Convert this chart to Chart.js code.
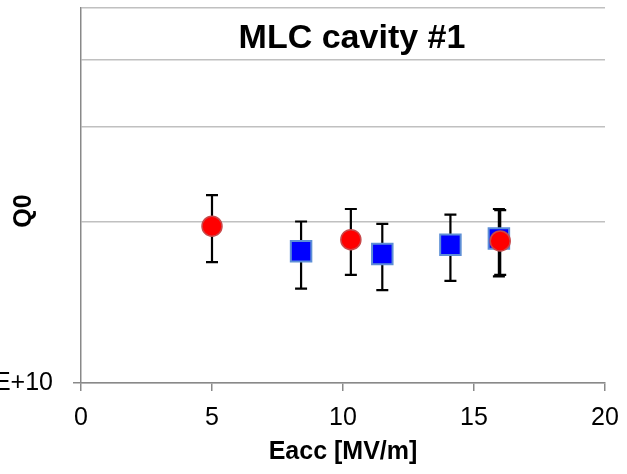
<!DOCTYPE html>
<html>
<head>
<meta charset="utf-8">
<script src="https://cdn.jsdelivr.net/npm/chart.js@4/dist/chart.umd.min.js"></script>
<style>
  body { margin: 0; background: #fff; }
  #wrap { width: 627px; height: 474px; }
</style>
</head>
<body>
<div id="wrap"><canvas id="q0Chart" width="627" height="474"></canvas></div>
<script>
// Q0 vs Eacc, MLC cavity #1
var blueE  = [8.4, 11.5, 14.1, 15.95];
var blueQ  = [1.76e10, 1.74e10, 1.81e10, 1.86e10];
var blueHi = [2.00e10, 1.98e10, 2.06e10, 2.11e10];
var blueLo = [1.50e10, 1.49e10, 1.55e10, 1.58e10];

var redE  = [5.0, 10.3, 16.0];
var redQ  = [1.96e10, 1.85e10, 1.84e10];
var redHi = [2.24e10, 2.11e10, 2.10e10];
var redLo = [1.68e10, 1.59e10, 1.59e10];

var xTicks = [0, 5, 10, 15, 20];
var yTicks = [1e10, 2e10, 3e10, 4e10, 5e10];

function toPoints(xs, ys){
  var pts = [];
  for (var i = 0; i < xs.length; i++) pts.push({x: xs[i], y: ys[i]});
  return pts;
}

var errorBars = {
  id: 'errorBars',
  beforeDatasetsDraw: function(chart){
    var ctx = chart.ctx, x = chart.scales.x, y = chart.scales.y;
    var sets = [[blueE, blueLo, blueHi], [redE, redLo, redHi]];
    ctx.save();
    ctx.strokeStyle = '#000';
    ctx.lineWidth = 2.2;
    sets.forEach(function(s){
      for (var i = 0; i < s[0].length; i++) {
        var px = x.getPixelForValue(s[0][i]);
        var lo = y.getPixelForValue(s[1][i]);
        var hi = y.getPixelForValue(s[2][i]);
        ctx.beginPath();
        ctx.moveTo(px, lo); ctx.lineTo(px, hi);
        ctx.moveTo(px - 6, lo); ctx.lineTo(px + 6, lo);
        ctx.moveTo(px - 6, hi); ctx.lineTo(px + 6, hi);
        ctx.stroke();
      }
    });
    ctx.restore();
  }
};

var texts = {
  id: 'texts',
  afterDraw: function(chart){
    var ctx = chart.ctx, a = chart.chartArea;
    ctx.save();
    ctx.fillStyle = '#000';
    ctx.textAlign = 'center';
    ctx.textBaseline = 'middle';
    ctx.font = 'bold 34px "Liberation Sans", Arial, sans-serif';
    ctx.fillText('MLC cavity #1', a.left + 271, a.top + 31);
    ctx.translate(24, 211);
    ctx.rotate(-Math.PI / 2);
    ctx.font = 'bold 25px "Liberation Sans", Arial, sans-serif';
    ctx.fillText('Q0', 0, 0);
    ctx.restore();
  }
};

var ctx = document.getElementById('q0Chart');

var chart = new Chart(ctx, {
  type: 'scatter',
  data: {
    datasets: [{
      label: 'blue',
      data: toPoints(blueE, blueQ),
      pointStyle: 'rect',
      pointRadius: 14.5,
      pointHoverRadius: 14.5,
      backgroundColor: '#0000FF',
      borderColor: '#5E8FD6',
      borderWidth: 2,
      order: 2
    }, {
      label: 'red',
      data: toPoints(redE, redQ),
      pointStyle: 'circle',
      pointRadius: 10,
      pointHoverRadius: 10,
      backgroundColor: '#FF0000',
      borderColor: '#C9484A',
      borderWidth: 1.5,
      order: 1
    }]
  },
  options: {
    responsive: false,
    animation: false,
    devicePixelRatio: 1,
    layout: { autoPadding: false, padding: { left: 0, right: 22, top: 8, bottom: 0 } },
    plugins: {
      legend: { display: false },
      tooltip: { enabled: false }
    },
    scales: {
      x: {
        type: 'linear',
        min: 0, max: 20,
        afterFit: function(s){ s.height = 91; s.paddingLeft = 0; s.paddingRight = 0; },
        afterBuildTicks: function(s){ s.ticks = xTicks.map(function(v){ return {value: v}; }); },
        grid: { drawOnChartArea: false, drawTicks: true, tickLength: 8, color: '#898989', lineWidth: 1.5 },
        border: { color: '#898989', width: 1.5 },
        ticks: { color: '#000', padding: 12, font: { size: 25, family: '"Liberation Sans", Arial, sans-serif' } },
        title: { display: true, text: 'Eacc [MV/m]', color: '#000', padding: { bottom: 7 },
                 font: { size: 25, weight: 'bold', family: '"Liberation Sans", Arial, sans-serif' } }
      },
      y: {
        type: 'logarithmic',
        min: 1e10, max: 5e10,
        afterFit: function(s){ s.width = 81; s.paddingTop = 0; s.paddingBottom = 0; },
        afterBuildTicks: function(s){ s.ticks = yTicks.map(function(v){ return {value: v}; }); },
        grid: {
          color: '#C0C0C0', lineWidth: 1.5, tickLength: 8,
          tickColor: function(c){ return c.tick && c.tick.value === yTicks[0] ? '#898989' : 'rgba(0,0,0,0)'; }
        },
        border: { color: '#898989', width: 1.5 },
        ticks: {
          color: '#000', padding: 20, autoSkip: false,
          font: { size: 25, family: '"Liberation Sans", Arial, sans-serif' },
          callback: function(v){ return v === yTicks[0] ? '1.00E+10' : ''; }
        }
      }
    }
  },
  plugins: [errorBars, texts]
});
</script>
</body>
</html>
